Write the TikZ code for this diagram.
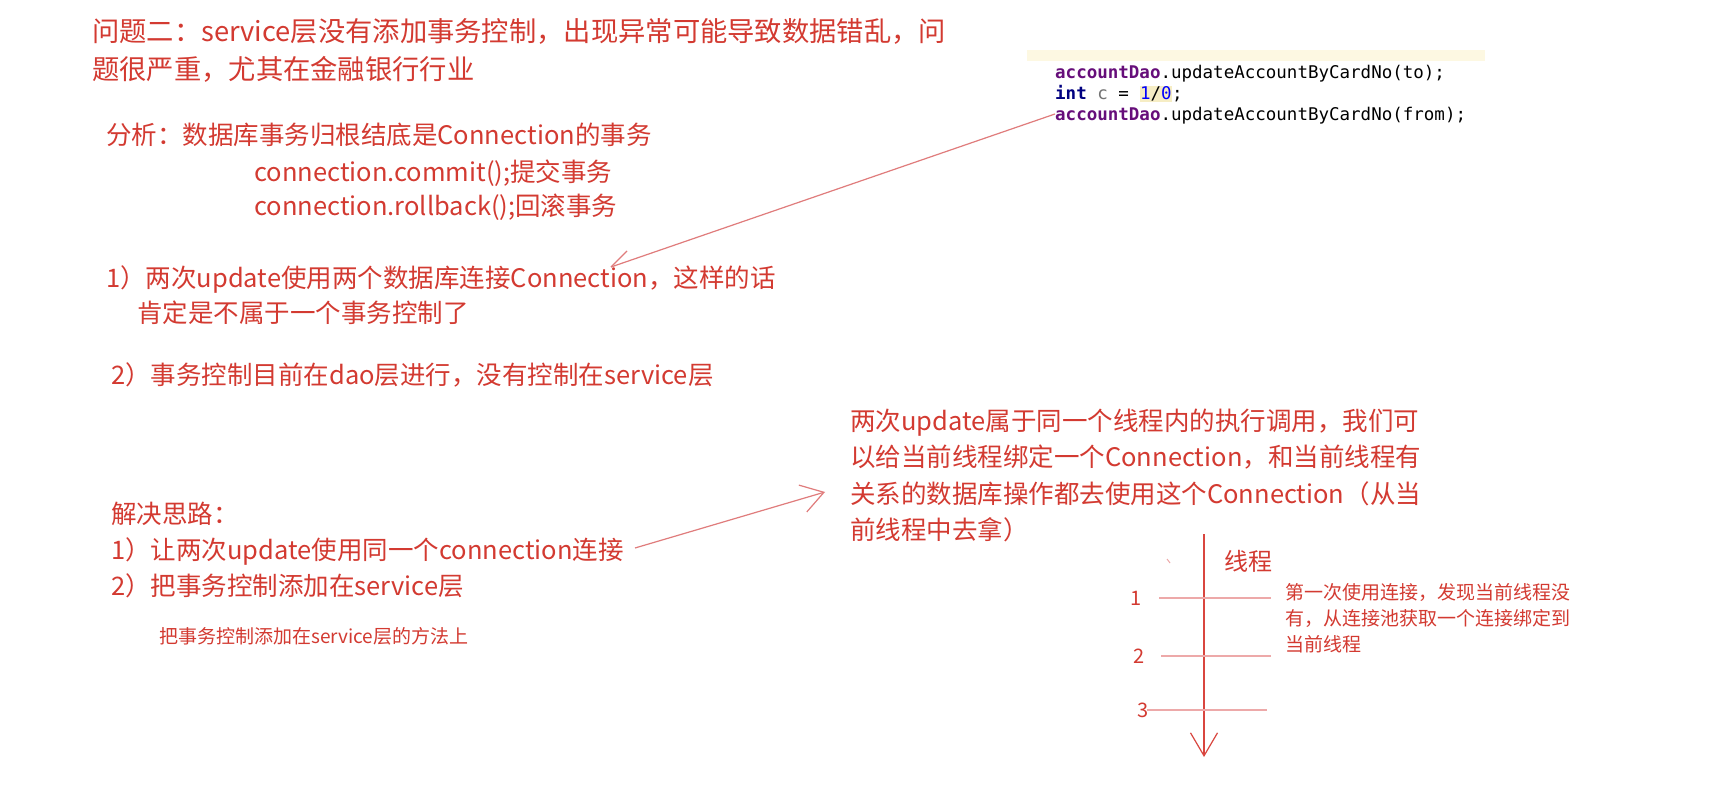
\documentclass[tikz,border=0pt]{standalone}
\usepackage{fontspec}
\setmainfont{Noto Sans CJK SC}
\newfontfamily\codefont{DejaVu Sans Mono}
\usetikzlibrary{arrows.meta, positioning}
\definecolor{ink}{HTML}{D33A31}
\definecolor{pen}{HTML}{E07C7C}
\definecolor{tick}{HTML}{EDA9A9}
\definecolor{axisred}{HTML}{D9463F}
\definecolor{kwpurple}{HTML}{660E7A}
\definecolor{kwnavy}{HTML}{000080}
\definecolor{numblue}{HTML}{0000FF}
\definecolor{hlyellow}{HTML}{F6EDC4}
\definecolor{bandyellow}{HTML}{FDF8E2}
\setlength{\fboxsep}{0.5pt}

\begin{document}
\begin{tikzpicture}[
    x=1pt, y=-1pt,
    every node/.style={inner sep=0pt, anchor=west, text=ink},
    head/.style={font=\fontsize{27.3pt}{38pt}\selectfont, text height=24pt, text depth=3.3pt},
    body/.style={font=\fontsize{25.5pt}{36pt}\selectfont, text height=22.4pt, text depth=3.1pt},
    note/.style={font=\fontsize{19pt}{25pt}\selectfont, text height=16.7pt, text depth=2.3pt},
    code/.style={font=\codefont\fontsize{17.5pt}{21pt}\selectfont, text=black, text height=13pt, text depth=0pt},
    num/.style={font=\fontsize{20pt}{22pt}\selectfont, text height=14.6pt, text depth=0pt, anchor=center},
    link/.style={draw=pen, line width=1.2pt},
]
\fill[white] (0,0) rectangle (1718,786);
\useasboundingbox (0,0) rectangle (1718,786);

% ================================================================ the problem
\node[head] (title1) at (92, 31) {问题二：service层没有添加事务控制，出现异常可能导致数据错乱，问};
\node[head] (title2) at (92, 69) {题很严重，尤其在金融银行行业};

\node[body] (ana)      at (106, 135) {分析：数据库事务归根结底是Connection的事务};
\node[body] (commit)   at (254, 172) {connection.commit();提交事务};
\node[body] (rollback) at (254, 206) {connection.rollback();回滚事务};

\node[body] (why1a) at (106, 278) {1）两次update使用两个数据库连接Connection，这样的话};
\node[body] (why1b) at (137, 313) {肯定是不属于一个事务控制了};
\node[body] (why2)  at (111, 375) {2）事务控制目前在dao层进行，没有控制在service层};

% ================================================================ the code
\fill[bandyellow] (1027, 50) rectangle (1485, 61);
\node[code] (code1) at (1055, 72) {\textbf{\color{kwpurple}accountDao}.updateAccountByCardNo(to);};
\node[code] (code2) at (1055, 93) {\textbf{\color{kwnavy}int} {\color{black!55}c} = \colorbox{hlyellow}{{\color{numblue}1}/{\color{numblue}0}};};
\node[code] (code3) at (1055, 114) {\textbf{\color{kwpurple}accountDao}.updateAccountByCardNo(from);};

\coordinate (conntip) at (611, 267);
\draw[link] (code3.west) -- (conntip);
\draw[link] (conntip) -- ++(16, -16);

% ================================================================ the way out
\node[body] (sol0) at (111, 514) {解决思路：};
\node[body] (sol1) at (111, 550) {1）让两次update使用同一个connection连接};
\node[body] (sol2) at (111, 586) {2）把事务控制添加在service层};
\node[note] (solnote) at (159, 636) {把事务控制添加在service层的方法上};

\node[body] (idea1) at (850, 421) {两次update属于同一个线程内的执行调用，我们可};
\node[body] (idea2) at (850, 457) {以给当前线程绑定一个Connection，和当前线程有};
\node[body] (idea3) at (850, 494) {关系的数据库操作都去使用这个Connection（从当};
\node[body] (idea4) at (850, 530) {前线程中去拿）};

\coordinate (soltail) at (635, 548);
\coordinate (ideatip) at (825, 492);
\draw[link, -{Straight Barb[length=22pt, width=28pt]}] (soltail) -- (ideatip);

% ================================================================ the thread
\coordinate (ttop) at (1204, 534);
\coordinate (tend) at (1204, 757);
\draw[axisred, line width=1.2pt, -{Straight Barb[length=23pt, width=27pt]}] (ttop) -- (tend);
\node[font=\fontsize{24pt}{28pt}\selectfont, text height=21pt, text depth=3pt] (thread) at (1224, 561) {线程};
\draw[tick, line width=1pt] (1167, 559) -- (1170, 563);

\foreach \n/\y/\a/\b/\lx in {1/598/1159/1271/1136, 2/656/1161/1271/1139, 3/710/1147/1267/1143}{
    \draw[tick, line width=1.6pt] (\a, \y) -- (\b, \y);
    \node[num] (step\n) at (\lx, \y) {\n};
}

\node[note] (first1) at (1285, 592) {第一次使用连接，发现当前线程没};
\node[note] (first2) at (1285, 618) {有，从连接池获取一个连接绑定到};
\node[note] (first3) at (1285, 644) {当前线程};
\end{tikzpicture}
\end{document}
